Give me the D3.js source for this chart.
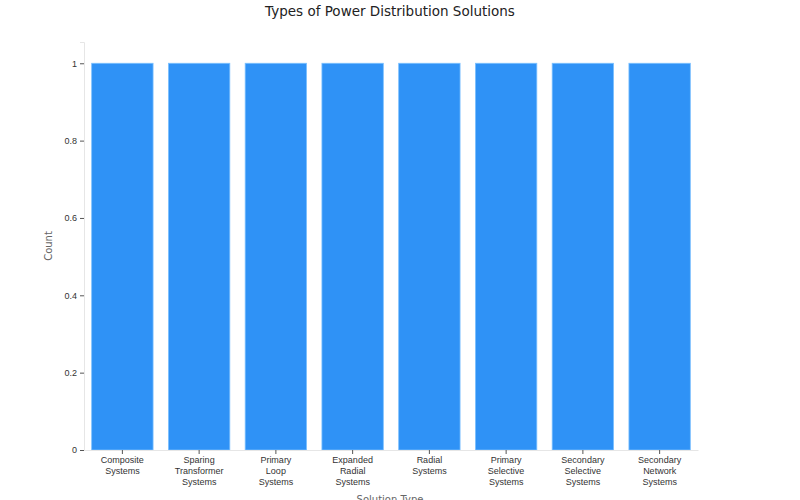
<!DOCTYPE html>
<html>
<head>
<meta charset="utf-8">
<script src="https://cdn.jsdelivr.net/npm/d3@7"></script>
<style>
  body { margin: 0; background: #fff; font-family: "DejaVu Sans", sans-serif; }
</style>
</head>
<body>
<div id="chart"></div>
<script>
const categories = ['Composite Systems', 'Sparing Transformer Systems', 'Primary Loop Systems',
  'Expanded Radial Systems', 'Radial Systems', 'Primary Selective Systems',
  'Secondary Selective Systems', 'Secondary Network Systems'];
const counts = [1, 1, 1, 1, 1, 1, 1, 1];
const yTicks = [0, 0.2, 0.4, 0.6, 0.8, 1];

const width = 800, height = 500;
const margin = {top: 42, right: 102, bottom: 50, left: 84};

const svg = d3.select('#chart').append('svg')
    .attr('width', width)
    .attr('height', height);

const x = d3.scaleBand()
    .domain(categories)
    .range([margin.left, width - margin.right])
    .paddingInner(0.2)
    .paddingOuter(0.1);

const y = d3.scaleLinear()
    .domain([0, 1.055])
    .range([height - margin.bottom, margin.top]);

// Bars
svg.selectAll('.bar')
    .data(categories)
  .join('rect')
    .attr('class', 'bar')
    .attr('x', d => x(d))
    .attr('width', x.bandwidth())
    .attr('y', (d, i) => y(counts[i]))
    .attr('height', (d, i) => y(0) - y(counts[i]))
    .attr('fill', '#2f92f6')
    .attr('stroke', '#7cc0ff')
    .attr('stroke-width', 0.8);

// Y axis
const yAxis = svg.append('g')
    .attr('transform', `translate(${margin.left},0)`)
    .call(d3.axisLeft(y).tickValues(yTicks).tickSize(4).tickFormat(d3.format('~g')));
yAxis.select('.domain').attr('stroke', '#e6e6e6');
yAxis.selectAll('.tick line').attr('stroke', '#555');
yAxis.selectAll('.tick text').attr('fill', '#333').attr('font-size', 9);

// X axis
const xAxis = svg.append('g')
    .attr('transform', `translate(0,${y(0)})`)
    .call(d3.axisBottom(x).tickSize(4).tickSizeOuter(0));
xAxis.select('.domain').attr('stroke', '#e6e6e6');
xAxis.selectAll('.tick line').attr('stroke', '#555');
xAxis.selectAll('.tick text').each(function(d) {
  const t = d3.select(this).text(null).attr('fill', '#333').attr('font-size', 9);
  d.split(' ').forEach((w, i) => {
    t.append('tspan').attr('x', 0).attr('dy', i === 0 ? '0.71em' : '1.2em').text(w);
  });
});

// Titles
svg.append('text')
    .attr('x', 390).attr('y', 16)
    .attr('text-anchor', 'middle')
    .attr('font-size', 13.5)
    .attr('fill', '#222')
    .text('Types of Power Distribution Solutions');

svg.append('text')
    .attr('transform', `translate(52,${(margin.top + y(0)) / 2}) rotate(-90)`)
    .attr('text-anchor', 'middle')
    .attr('font-size', 10)
    .attr('fill', '#666')
    .text('Count');

svg.append('text')
    .attr('x', 390).attr('y', 503)
    .attr('text-anchor', 'middle')
    .attr('font-size', 10)
    .attr('fill', '#666')
    .text('Solution Type');
</script>
</body>
</html>
